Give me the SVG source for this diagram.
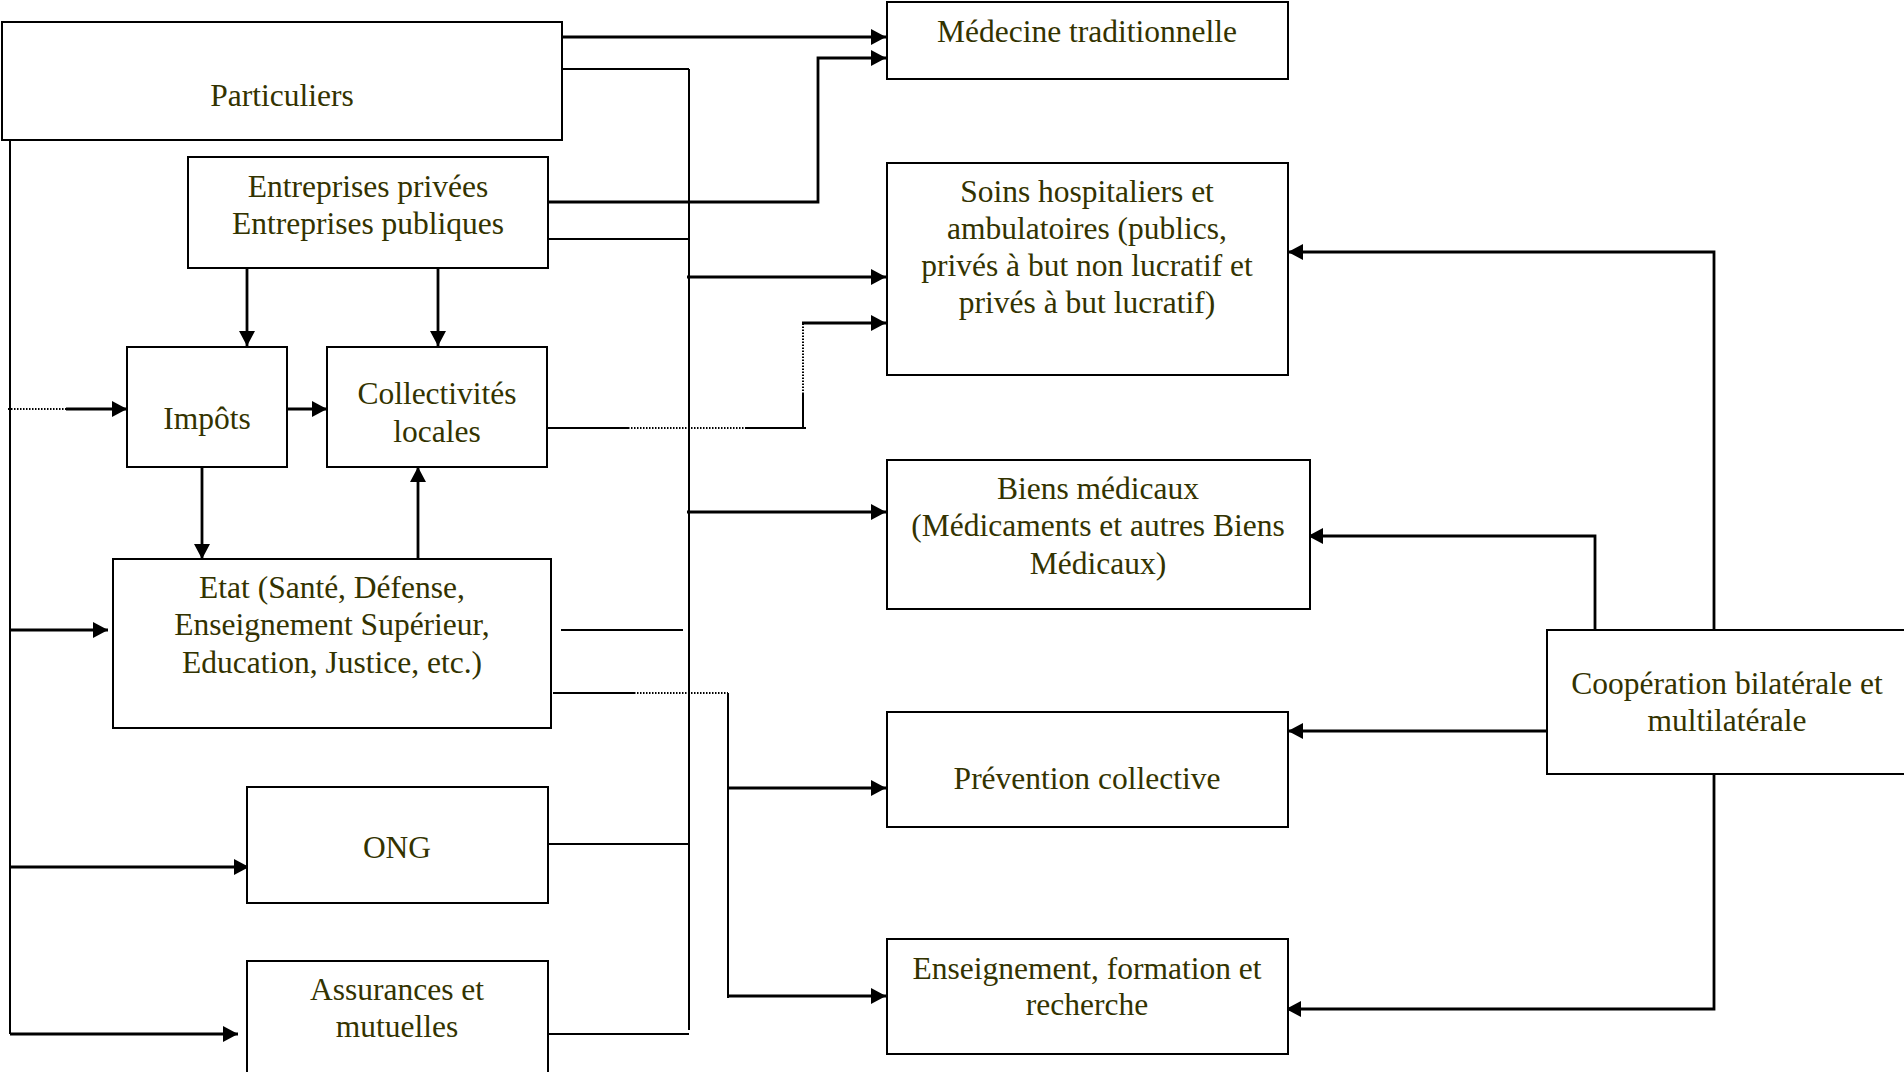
<svg xmlns="http://www.w3.org/2000/svg" width="1904" height="1072" viewBox="0 0 1904 1072">
<style>
.box{fill:#fff;stroke:#000;stroke-width:2}
.t{font-family:"Liberation Serif","Times New Roman",serif;font-size:31.5px;fill:#333300;text-anchor:middle}
.a{fill:none;stroke:#000;stroke-width:2.8;marker-end:url(#ah)}
.l{fill:none;stroke:#000;stroke-width:2}
.d{fill:none;stroke:#000;stroke-width:2;stroke-dasharray:1.5 1.5}
</style>
<defs>
<marker id="ah" markerUnits="userSpaceOnUse" markerWidth="16" markerHeight="16" refX="15" refY="8" orient="auto">
<path d="M0,0 L15,8 L0,16 z" fill="#000"/>
</marker>
</defs>
<rect width="1904" height="1072" fill="#fff"/>
<g id="connectors">
<path class="a" d="M559,37 H886"/>
<path class="l" d="M562,69 H689"/>
<path class="l" d="M689,69 V1030"/>
<path class="a" d="M548,202 H818 V58 H886"/>
<path class="l" d="M548,239 H689"/>
<path class="a" d="M687,277 H886"/>
<path class="a" d="M247,268 V346"/>
<path class="a" d="M438,268 V346"/>
<path class="d" d="M8,409 H66"/>
<path class="a" d="M66,409 H127"/>
<path class="a" d="M287,409 H327"/>
<path class="l" d="M547,428 H628"/>
<path class="d" d="M628,428 H746"/>
<path class="l" d="M746,428 H806"/>
<path class="l" d="M803,428 V394"/>
<path class="d" d="M803,394 V323"/>
<path class="a" d="M802,323 H886"/>
<path class="a" d="M202,466 V559"/>
<path class="a" d="M418,562 V467"/>
<path class="l" d="M10,140 V1034"/>
<path class="a" d="M10,630 H108"/>
<path class="l" d="M561,630 H683"/>
<path class="l" d="M553,693 H634"/>
<path class="d" d="M634,693 H728"/>
<path class="l" d="M728,693 V998"/>
<path class="a" d="M687,512 H886"/>
<path class="a" d="M10,867 H249"/>
<path class="l" d="M548,844 H689"/>
<path class="a" d="M10,1034 H238"/>
<path class="l" d="M548,1034 H689"/>
<path class="a" d="M727,788 H886"/>
<path class="a" d="M727,996 H886"/>
<path class="a" d="M1714,636 V252 H1288"/>
<path class="a" d="M1595,631 V536 H1308"/>
<path class="a" d="M1547,731 H1288"/>
<path class="a" d="M1714,773 V1009 H1286"/>
</g>
<g id="particuliers"><rect class="box" x="2" y="22" width="560" height="118"/><text class="t" x="282" y="106">Particuliers</text></g>
<g id="entreprises"><rect class="box" x="188" y="157" width="360" height="111"/><text class="t" x="368" y="197">Entreprises privées</text><text class="t" x="368" y="234">Entreprises publiques</text></g>
<g id="impots"><rect class="box" x="127" y="347" width="160" height="120"/><text class="t" x="207" y="429">Impôts</text></g>
<g id="collectivites"><rect class="box" x="327" y="347" width="220" height="120"/><text class="t" x="437" y="404">Collectivités</text><text class="t" x="437" y="442">locales</text></g>
<g id="etat"><rect class="box" x="113" y="559" width="438" height="169"/><text class="t" x="332" y="598">Etat (Santé, Défense,</text><text class="t" x="332" y="635">Enseignement Supérieur,</text><text class="t" x="332" y="673">Education, Justice, etc.)</text></g>
<g id="ong"><rect class="box" x="247" y="787" width="301" height="116"/><text class="t" x="397" y="858">ONG</text></g>
<g id="assurances"><rect class="box" x="247" y="961" width="301" height="130"/><text class="t" x="397" y="1000">Assurances et</text><text class="t" x="397" y="1037">mutuelles</text></g>
<g id="medecine"><rect class="box" x="887" y="2" width="401" height="77"/><text class="t" x="1087" y="42">Médecine traditionnelle</text></g>
<g id="soins"><rect class="box" x="887" y="163" width="401" height="212"/><text class="t" x="1087" y="202">Soins hospitaliers et</text><text class="t" x="1087" y="239">ambulatoires (publics,</text><text class="t" x="1087" y="276">privés à but non lucratif et</text><text class="t" x="1087" y="313">privés à but lucratif)</text></g>
<g id="biens"><rect class="box" x="887" y="460" width="423" height="149"/><text class="t" x="1098" y="499">Biens médicaux</text><text class="t" x="1098" y="536">(Médicaments et autres Biens</text><text class="t" x="1098" y="574">Médicaux)</text></g>
<g id="prevention"><rect class="box" x="887" y="712" width="401" height="115"/><text class="t" x="1087" y="789">Prévention collective</text></g>
<g id="enseignement"><rect class="box" x="887" y="939" width="401" height="115"/><text class="t" x="1087" y="979">Enseignement, formation et</text><text class="t" x="1087" y="1015">recherche</text></g>
<g id="cooperation"><rect class="box" x="1547" y="630" width="380" height="144"/><text class="t" x="1727" y="694">Coopération bilatérale et</text><text class="t" x="1727" y="731">multilatérale</text></g>
</svg>
